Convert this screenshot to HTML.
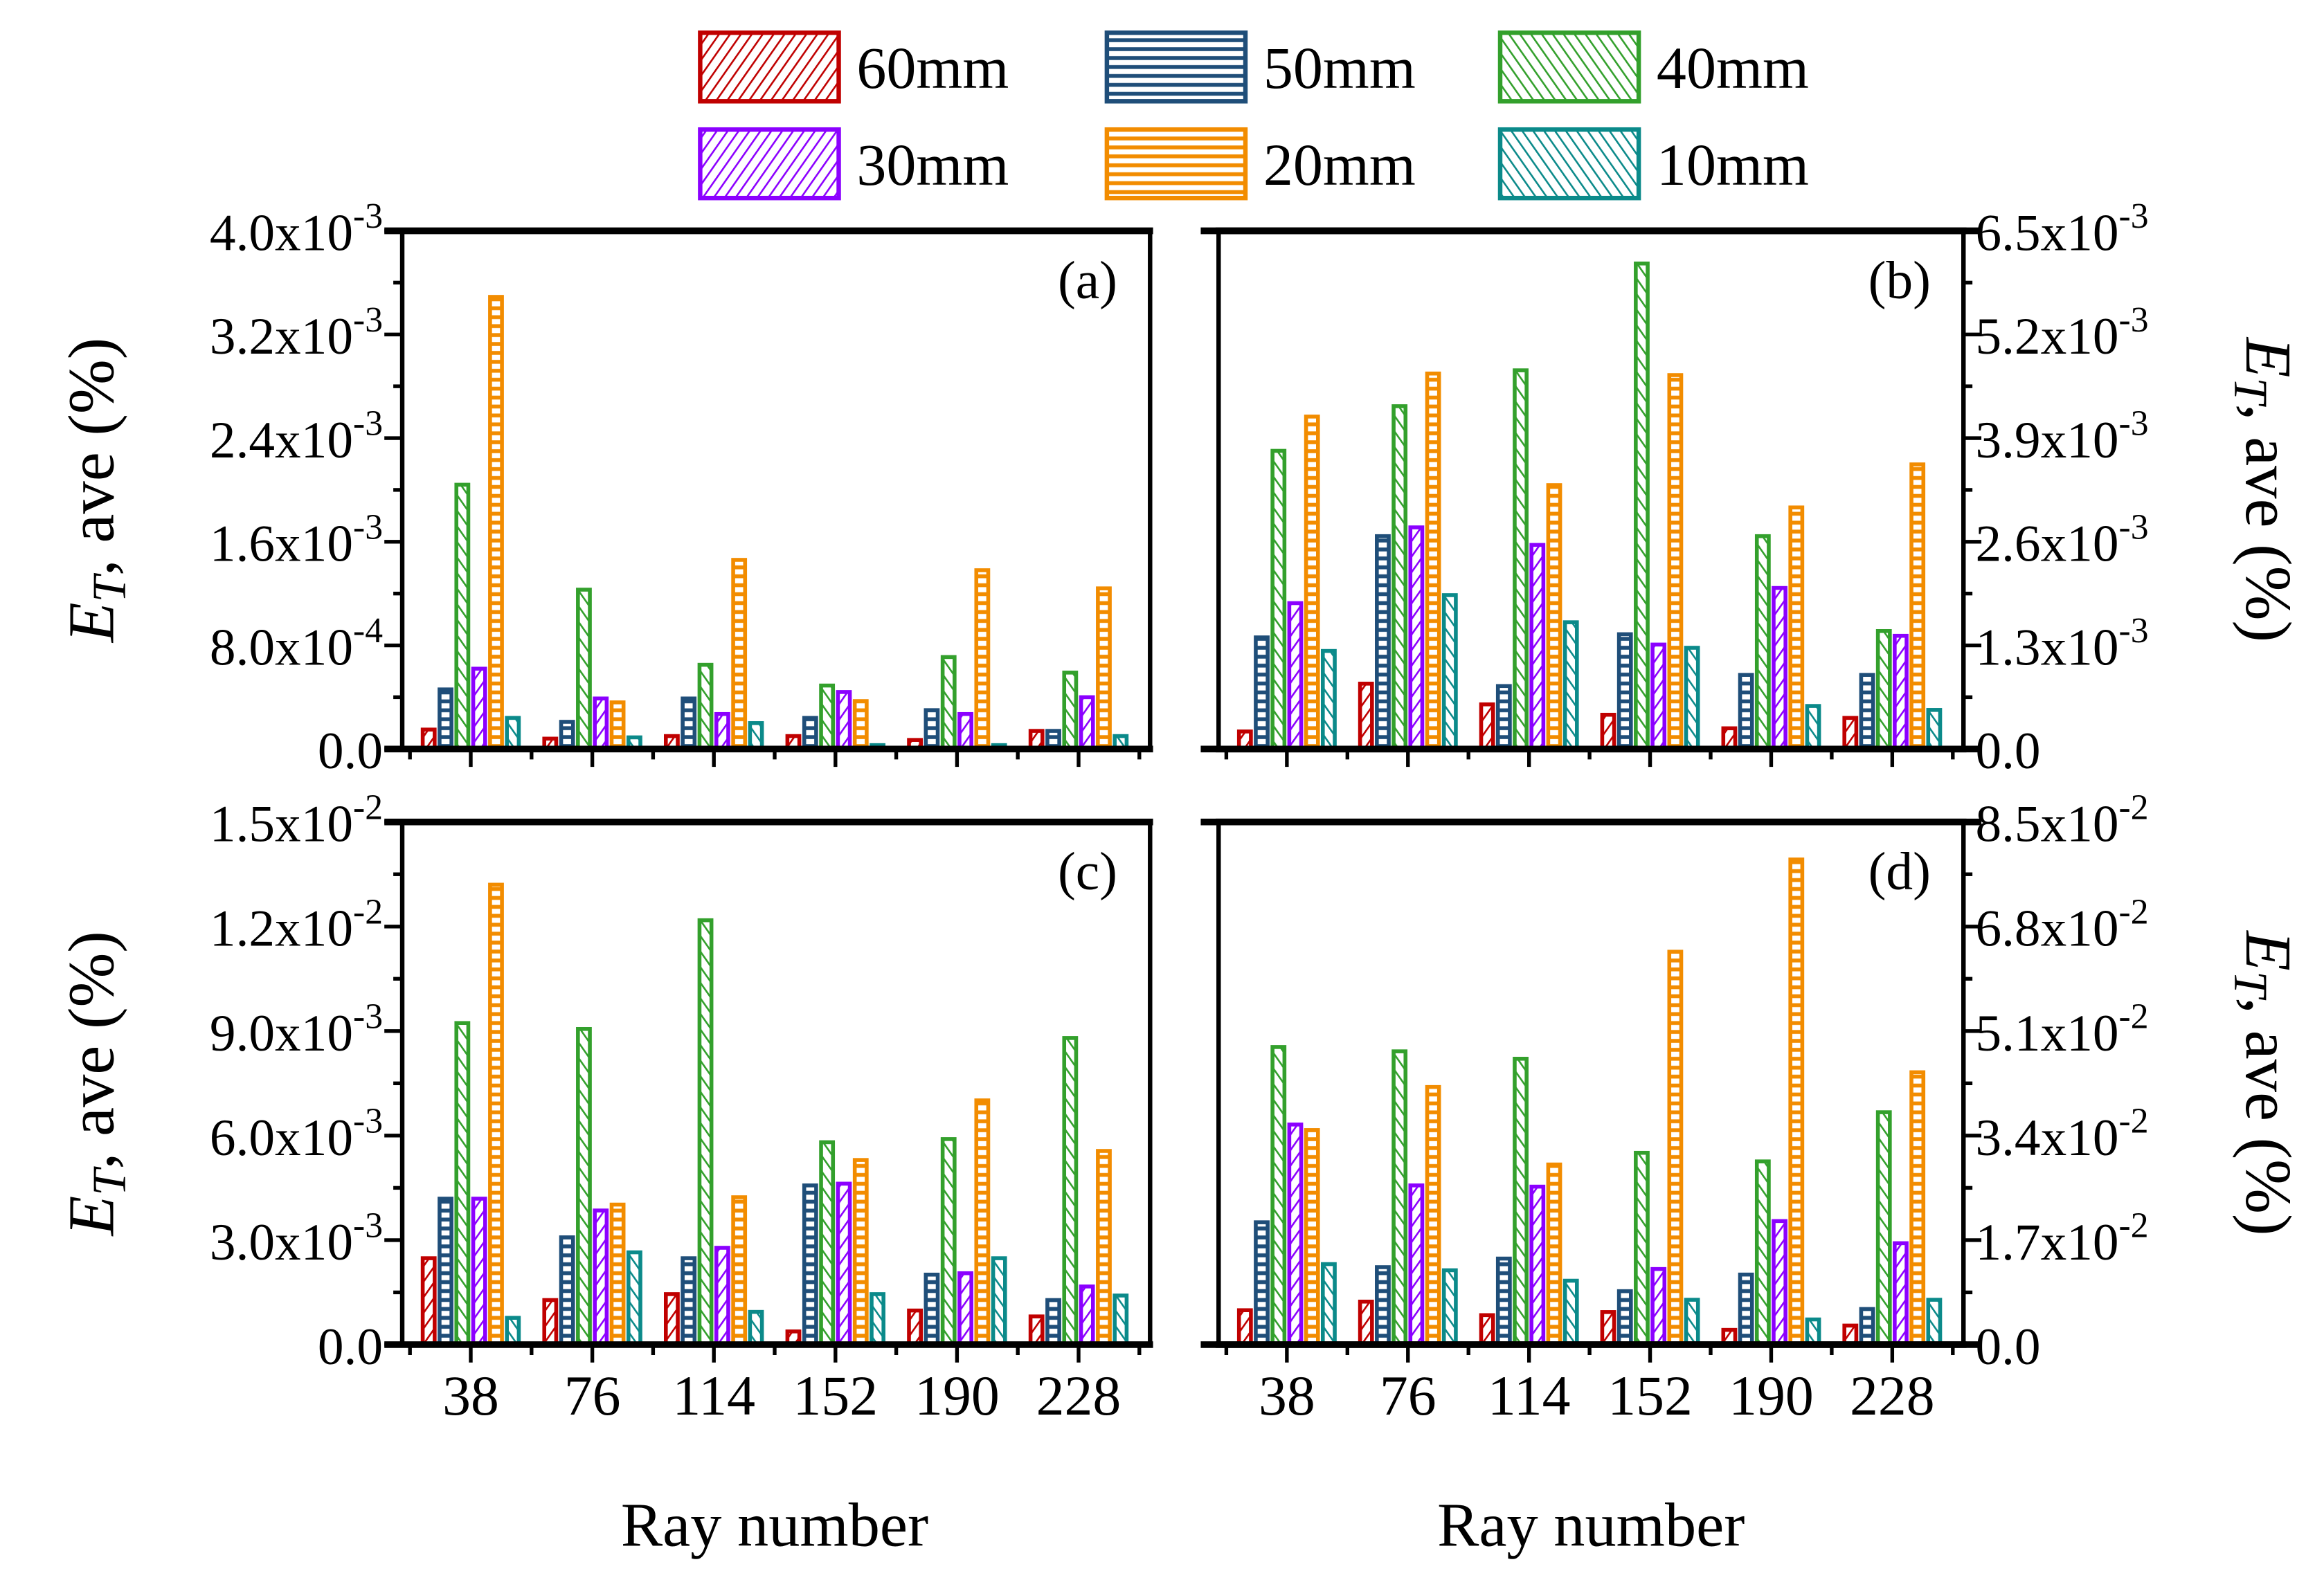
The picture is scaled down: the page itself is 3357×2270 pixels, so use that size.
<!DOCTYPE html>
<html><head><meta charset="utf-8"><style>
html,body{margin:0;padding:0;background:#fff;}
svg{display:block;}
text{font-family:"Liberation Serif",serif;fill:#000;}
</style></head><body>
<svg id="chart" width="3357" height="2270" viewBox="0 0 1560 1055" preserveAspectRatio="none" xmlns="http://www.w3.org/2000/svg">
<defs>
<pattern id="p-red" patternUnits="userSpaceOnUse" width="6" height="6" patternTransform="rotate(35)"><line x1="0" y1="0" x2="0" y2="6" stroke="#c00000" stroke-width="2.4"/></pattern>
<pattern id="p-blue" patternUnits="userSpaceOnUse" width="6" height="6"><line x1="0" y1="3" x2="6" y2="3" stroke="#1f4e79" stroke-width="2.6"/></pattern>
<pattern id="p-green" patternUnits="userSpaceOnUse" width="6" height="6" patternTransform="rotate(-35)"><line x1="0" y1="0" x2="0" y2="6" stroke="#33a02c" stroke-width="2.4"/></pattern>
<pattern id="p-purple" patternUnits="userSpaceOnUse" width="6" height="6" patternTransform="rotate(35)"><line x1="0" y1="0" x2="0" y2="6" stroke="#8b00ff" stroke-width="2.4"/></pattern>
<pattern id="p-orange" patternUnits="userSpaceOnUse" width="6" height="6"><line x1="0" y1="3" x2="6" y2="3" stroke="#f28c00" stroke-width="2.6"/></pattern>
<pattern id="p-teal" patternUnits="userSpaceOnUse" width="6" height="6" patternTransform="rotate(-35)"><line x1="0" y1="0" x2="0" y2="6" stroke="#0b8a8a" stroke-width="2.4"/></pattern>
</defs>
<g id="root"></g>
</svg>
<script>
const categories = ["38","76","114","152","190","228"];
const seriesNames = ["60mm","50mm","40mm","30mm","20mm","10mm"];
// panel (a) values x1e-4
const dataA60 = [1.5,0.8,1.0,1.0,0.7,1.4];
const dataA50 = [4.6,2.1,3.9,2.4,3.0,1.4];
const dataA40 = [20.4,12.3,6.5,4.9,7.1,5.9];
const dataA30 = [6.2,3.9,2.7,4.4,2.7,4.0];
const dataA20 = [34.9,3.6,14.6,3.7,13.8,12.4];
const dataA10 = [2.4,0.9,2.0,0.3,0.3,1.0];
// panel (b) values x1e-3
const dataB60 = [0.22,0.82,0.56,0.43,0.26,0.39];
const dataB50 = [1.40,2.67,0.79,1.44,0.93,0.93];
const dataB40 = [3.74,4.30,4.75,6.09,2.67,1.48];
const dataB30 = [1.83,2.78,2.56,1.31,2.02,1.42];
const dataB20 = [4.17,4.71,3.31,4.69,3.03,3.57];
const dataB10 = [1.23,1.93,1.59,1.27,0.54,0.49];
// panel (c) values x1e-3
const dataC60 = [2.48,1.28,1.45,0.38,0.98,0.81];
const dataC50 = [4.19,3.08,2.48,4.57,2.01,1.28];
const dataC40 = [9.23,9.06,12.18,5.81,5.90,8.80];
const dataC30 = [4.19,3.85,2.78,4.62,2.05,1.67];
const dataC20 = [13.2,4.02,4.23,5.30,7.01,5.56];
const dataC10 = [0.77,2.65,0.94,1.45,2.48,1.41];
// panel (d) values x1e-3
const dataD60 = [5.6,7.0,4.8,5.3,2.4,3.1];
const dataD50 = [19.9,12.6,14.0,8.7,11.4,5.8];
const dataD40 = [48.4,47.7,46.5,31.2,29.8,37.8];
const dataD30 = [35.8,25.9,25.7,12.3,20.1,16.5];
const dataD20 = [34.9,41.9,29.3,63.9,78.9,44.3];
const dataD10 = [13.1,12.1,10.4,7.3,4.1,7.3];
const ticksA = ["0.0","8.0x10","1.6x10","2.4x10","3.2x10","4.0x10"];
const expA = ["","-4","-3","-3","-3","-3"];
const ticksB = ["0.0","1.3x10","2.6x10","3.9x10","5.2x10","6.5x10"];
const expB = ["","-3","-3","-3","-3","-3"];
const ticksC = ["0.0","3.0x10","6.0x10","9.0x10","1.2x10","1.5x10"];
const expC = ["","-3","-3","-3","-2","-2"];
const ticksD = ["0.0","1.7x10","3.4x10","5.1x10","6.8x10","8.5x10"];
const expD = ["","-2","-2","-2","-2","-2"];

const NS="http://www.w3.org/2000/svg";
const root=document.getElementById('root');
function mk(tag,attrs,parent){const e=document.createElementNS(NS,tag);for(const k in attrs)e.setAttribute(k,attrs[k]);(parent||root).appendChild(e);return e;}
const colors=["#c00000","#1f4e79","#33a02c","#8b00ff","#f28c00","#0b8a8a"];
const fills=["p-red","p-blue","p-green","p-purple","p-orange","p-teal"];

const panels=[
 {id:"a",x0:270,x1:772,y0:155,y1:503,max:40,data:[dataA60,dataA50,dataA40,dataA30,dataA20,dataA10],ticks:ticksA,exp:expA,side:"left"},
 {id:"b",x0:818,x1:1318,y0:155,y1:503,max:6.5,data:[dataB60,dataB50,dataB40,dataB30,dataB20,dataB10],ticks:ticksB,exp:expB,side:"right"},
 {id:"c",x0:270,x1:772,y0:552,y1:903,max:15,data:[dataC60,dataC50,dataC40,dataC30,dataC20,dataC10],ticks:ticksC,exp:expC,side:"left"},
 {id:"d",x0:818,x1:1318,y0:552,y1:903,max:85,data:[dataD60,dataD50,dataD40,dataD30,dataD20,dataD10],ticks:ticksD,exp:expD,side:"right"}
];

panels.forEach(p=>{
 const g=mk('g',{});
 
 
 const w=p.x1-p.x0;
 const xScale=i=>p.x0+w*(46+81.6*i)/502;
 const yScale=v=>p.y1-(v/p.max)*(p.y1-p.y0);
 const bstep=11.3*w/502, bw=8;
 p.data.forEach((ser,j)=>{
  ser.forEach((v,i)=>{
   const cx=xScale(i)+(j-2.5)*bstep;
   const yt=yScale(v);
   const r=mk('rect',{x:cx-bw/2,y:yt,width:bw,height:Math.max(0,p.y1-yt),fill:'url(#'+fills[j]+')',stroke:colors[j],'stroke-width':2.6},g);
   
   
  });
 });
 const f=mk('rect',{x:p.x0,y:p.y0,width:w,height:p.y1-p.y0,fill:'none',stroke:'#000','stroke-width':3},g);
 
 
 mk('line',{x1:p.x0-12,y1:p.y0,x2:p.x1+2,y2:p.y0,stroke:'#000','stroke-width':4.5},g);
 mk('line',{x1:p.x0-12,y1:p.y1,x2:p.x1+2,y2:p.y1,stroke:'#000','stroke-width':4.5},g);
 if(p.side==="right"){mk('line',{x1:p.x0-2,y1:p.y0,x2:p.x1+12,y2:p.y0,stroke:'#000','stroke-width':4.5},g);mk('line',{x1:p.x0-2,y1:p.y1,x2:p.x1+12,y2:p.y1,stroke:'#000','stroke-width':4.5},g);}
 categories.forEach((c,i)=>{
  const x=xScale(i);
  mk('line',{x1:x,y1:p.y1,x2:x,y2:p.y1+12,stroke:'#000','stroke-width':2.5},g);
  const xm=x-40.8*w/502;
  mk('line',{x1:xm,y1:p.y1,x2:xm,y2:p.y1+7,stroke:'#000','stroke-width':2.5},g);
  if(i===categories.length-1){const xe=x+40.8*w/502;mk('line',{x1:xe,y1:p.y1,x2:xe,y2:p.y1+7,stroke:'#000','stroke-width':2.5},g);}
  if(p.id==="c"||p.id==="d"){
   const t=mk('text',{x:x,y:p.y1+47,'font-size':38,'text-anchor':'middle'},g);
   t.textContent=c;
   
   
  }
 });
 const n=p.ticks.length-1;
 for(let k=0;k<=n;k++){
  const y=p.y1-(p.y1-p.y0)*k/n;
  const ym=p.y1-(p.y1-p.y0)*(k+0.5)/n;
  if(p.side==="left"){
   mk('line',{x1:p.x0-12,y1:y,x2:p.x0,y2:y,stroke:'#000','stroke-width':2.5},g);
   if(k<n)mk('line',{x1:p.x0-6,y1:ym,x2:p.x0,y2:ym,stroke:'#000','stroke-width':2.5},g);
   const t=mk('text',{x:p.x0-13,y:y+13,'font-size':35,'text-anchor':'end'},g);
   
   
   t.textContent=p.ticks[k];
   if(p.exp[k]){const s=mk('tspan',{dy:-15,'font-size':24},t);s.textContent=p.exp[k];}
  } else {
   mk('line',{x1:p.x1,y1:y,x2:p.x1+12,y2:y,stroke:'#000','stroke-width':2.5},g);
   if(k<n)mk('line',{x1:p.x1,y1:ym,x2:p.x1+6,y2:ym,stroke:'#000','stroke-width':2.5},g);
   const t=mk('text',{x:p.x1+8,y:y+13,'font-size':35,'text-anchor':'start'},g);
   
   
   t.textContent=p.ticks[k];
   if(p.exp[k]){const s=mk('tspan',{dy:-15,'font-size':24},t);s.textContent=p.exp[k];}
  }
 }
 const pl=mk('text',{x:p.x1-22,y:p.y0+45,'font-size':36,'text-anchor':'end'},g);
 pl.textContent='('+p.id+')';
 
 
 const cy=(p.y0+p.y1)/2;
 let yt;
 if(p.side==="left") yt=mk('text',{transform:'translate(76,'+cy+') rotate(-90)','font-size':44,'text-anchor':'middle'},g);
 else yt=mk('text',{transform:'translate(1508,'+cy+') rotate(90)','font-size':44,'text-anchor':'middle'},g);
 
 
 const e1=mk('tspan',{'font-style':'italic'},yt);e1.textContent='E';
 const e2=mk('tspan',{'font-style':'italic','font-size':32,dy:8},yt);e2.textContent='T';
 const e3=mk('tspan',{dy:-8},yt);e3.textContent=', ave (%)';
});
[[520,"x-axis-title-left"],[1068,"x-axis-title-right"]].forEach(a=>{
 const t=mk('text',{x:a[0],y:1038,'font-size':42,'text-anchor':'middle'});
 t.textContent='Ray number';
 
 
});
const legPos=[[470,22],[743,22],[1007,22],[470,87],[743,87],[1007,87]];
seriesNames.forEach((s,j)=>{
 const g=mk('g',{});
 
 
 const [x,y]=legPos[j];
 mk('rect',{x:x,y:y,width:93,height:46,fill:'url(#'+fills[j]+')',stroke:colors[j],'stroke-width':3},g);
 const t=mk('text',{x:x+105,y:y+37,'font-size':40},g);
 t.textContent=s;
});
</script>
</body></html>
